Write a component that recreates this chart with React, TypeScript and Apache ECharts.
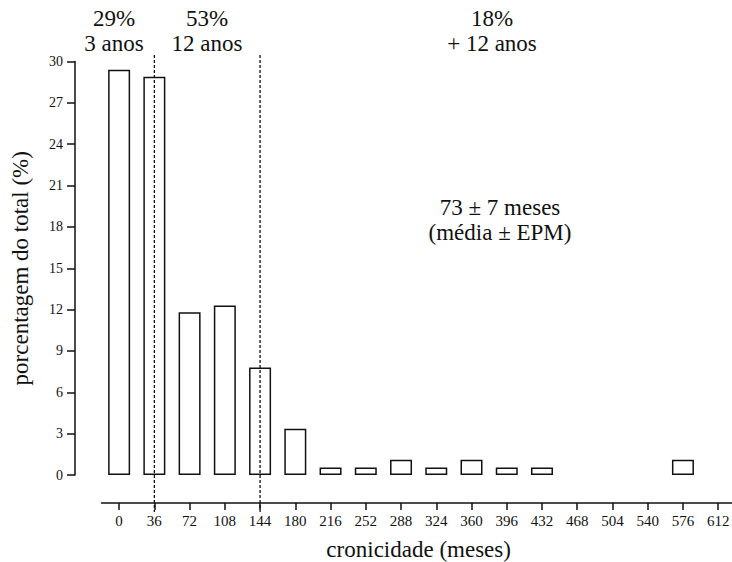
import React, { useEffect, useRef } from "react";
import * as echarts from "echarts";

const categories = ["0", "36", "72", "108", "144", "180", "216", "252", "288", "324", "360", "396", "432", "468", "504", "540", "576", "612"];
const percentValues: (number | null)[] = [29.4, 28.9, 11.8, 12.3, 7.8, 3.35, 0.55, 0.55, 1.1, 0.55, 1.1, 0.55, 0.55, null, null, null, 1.1, null];
const yTicks = { min: 0, max: 30, interval: 3 };
const cutoffs = ["36", "144"];
const groupLabels = [
  { pct: "29%", span: "3 anos", cx: 114 },
  { pct: "53%", span: "12 anos", cx: 207 },
  { pct: "18%", span: "+ 12 anos", cx: 492 },
];
const summaryLines = ["73 ± 7 meses", "(média ± EPM)"];

const FONT = "Liberation Serif";
const INK = "#111";

export default function App() {
  const ref = useRef<HTMLDivElement>(null);
  useEffect(() => {
    if (!ref.current) return;
    const chart = echarts.init(ref.current, null, { renderer: "svg" });
    const gridTop = 61.5;
    const gridH = 413.5;
    chart.setOption({
      animation: false,
      backgroundColor: "#fff",
      textStyle: { fontFamily: FONT, color: INK },
      grid: { left: 101.5, top: gridTop, width: 634.3, height: gridH, containLabel: false, outerBoundsMode: "none" },
      xAxis: {
        type: "category",
        data: categories,
        offset: 28,
        boundaryGap: true,
        name: "cronicidade (meses)",
        nameLocation: "middle",
        nameGap: 35,
        nameTextStyle: { fontFamily: FONT, fontSize: 23, color: INK },
        axisLine: { show: true, onZero: false, lineStyle: { color: INK, width: 1.5 } },
        axisTick: { show: true, alignWithLabel: true, length: 7, lineStyle: { color: INK, width: 1.5 } },
        axisLabel: { fontFamily: FONT, fontSize: 15, color: INK, margin: 10, interval: 0 },
        splitLine: { show: false },
      },
      yAxis: {
        type: "value",
        min: yTicks.min,
        max: yTicks.max,
        interval: yTicks.interval,
        offset: 26.5,
        name: "porcentagem do total (%)",
        nameLocation: "middle",
        nameGap: 43,
        nameTextStyle: { fontFamily: FONT, fontSize: 23, color: INK },
        axisLine: { show: true, onZero: false, lineStyle: { color: INK, width: 1.5 } },
        axisTick: { show: true, length: 8, lineStyle: { color: INK, width: 1.5 } },
        axisLabel: { fontFamily: FONT, fontSize: 14, color: INK, margin: 12 },
        splitLine: { show: false },
      },
      series: [
        {
          type: "bar",
          data: percentValues,
          barWidth: 22,
          itemStyle: { color: "#fff", borderColor: INK, borderWidth: 1.5 },
        },
      ],
    });

    const graphics: any[] = [];
    cutoffs.forEach((c) => {
      const px = chart.convertToPixel({ xAxisIndex: 0 }, c) as number;
      graphics.push({
        type: "line",
        shape: { x1: px, y1: 55, x2: px, y2: 512 },
        style: { stroke: INK, lineWidth: 1.3, lineDash: [3, 2] },
        z: 10,
      });
    });
    const txt = (t: string, x: number, y: number) => ({
      type: "text",
      x,
      y,
      style: {
        text: t,
        fontFamily: FONT,
        fontSize: 23,
        fill: INK,
        textAlign: "center",
        textVerticalAlign: "middle",
      },
    });
    groupLabels.forEach((g) => {
      graphics.push(txt(g.pct, g.cx, 18));
      graphics.push(txt(g.span, g.cx, 43));
    });
    summaryLines.forEach((t, i) => {
      graphics.push(txt(t, 500, 207 + i * 25));
    });
    chart.setOption({ graphic: graphics });
    return () => chart.dispose();
  }, []);
  return (
    <div
      ref={ref}
      style={{ position: "absolute", left: 0, top: 0, width: 732, height: 562 }}
    />
  );
}
